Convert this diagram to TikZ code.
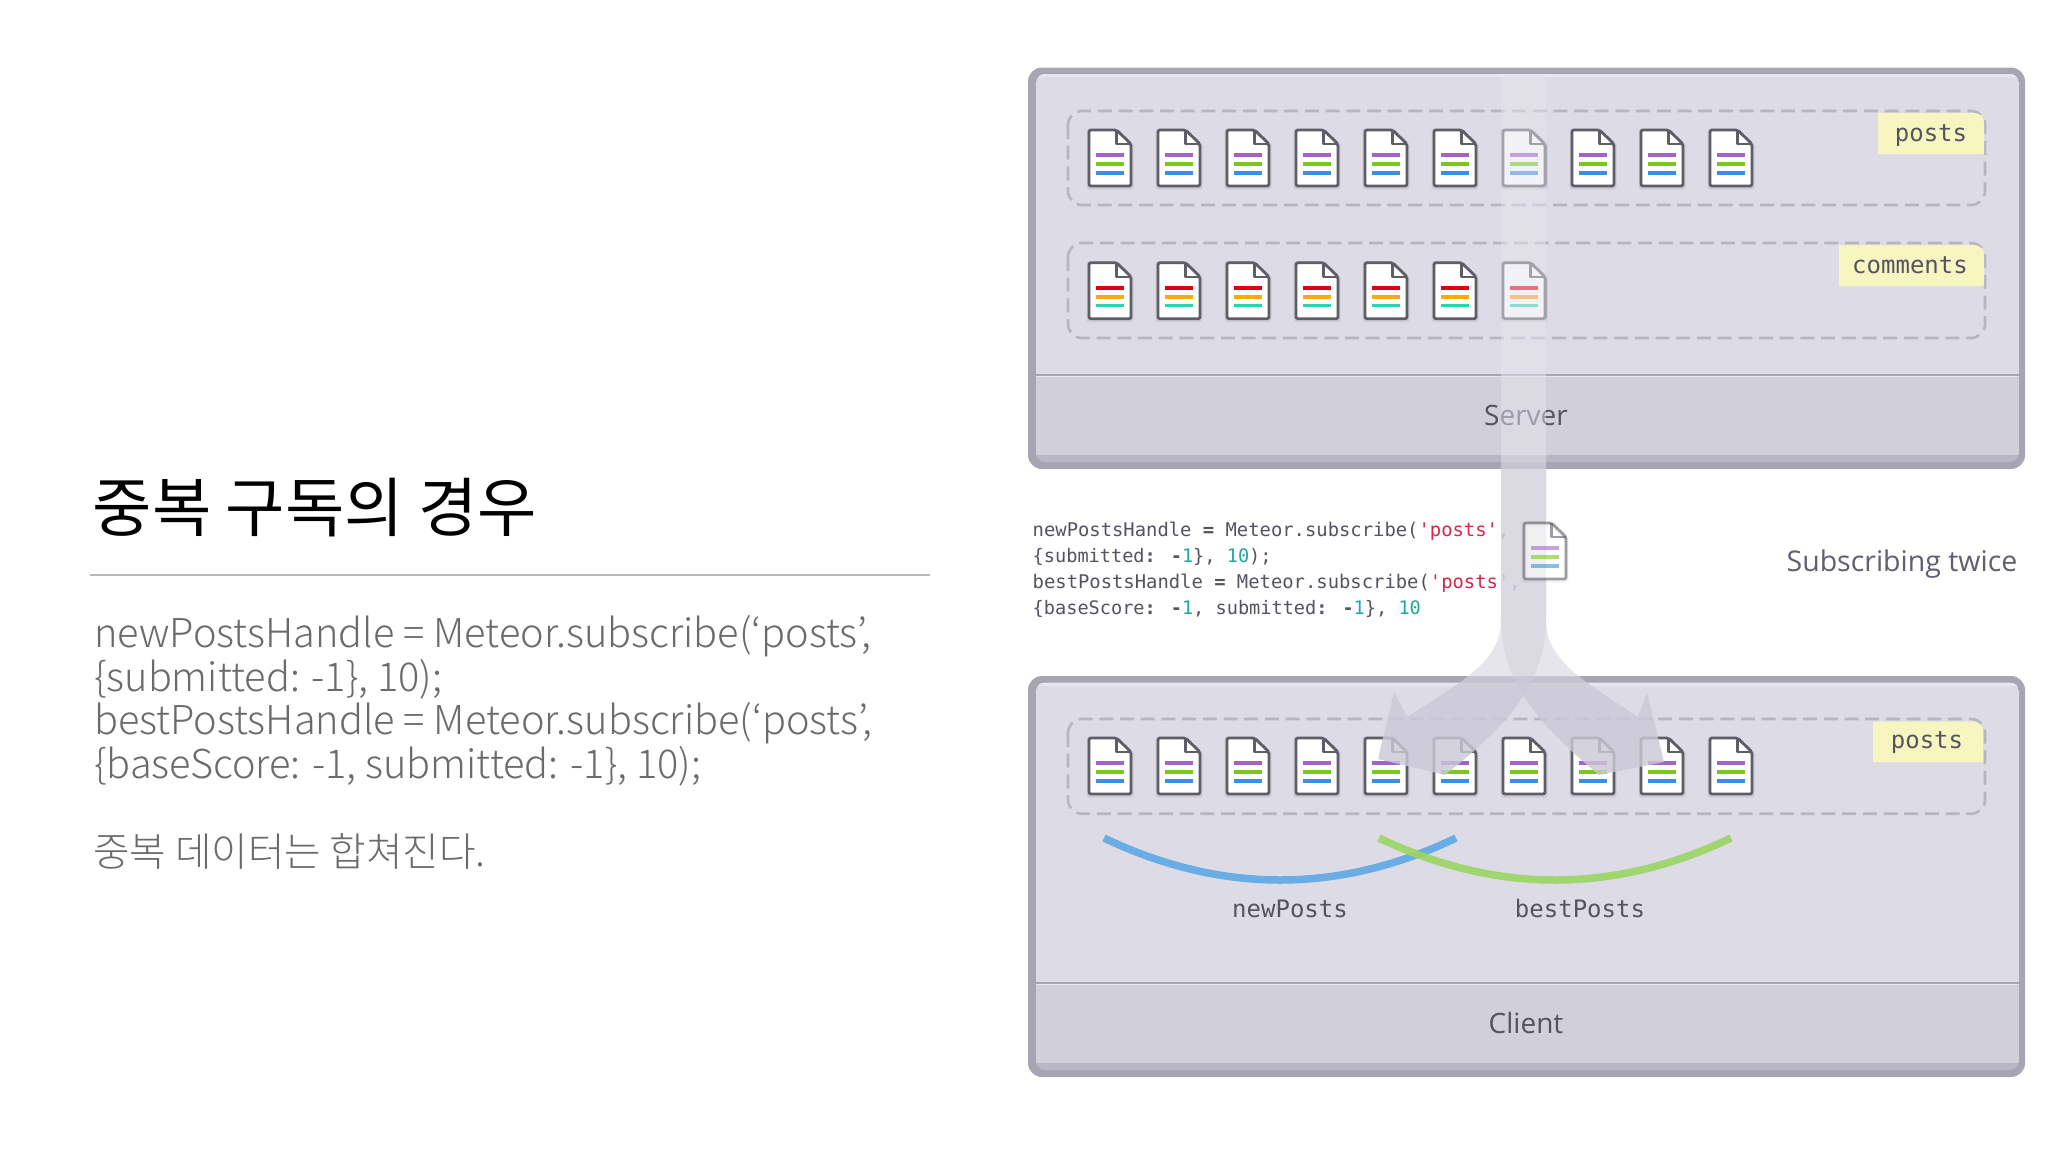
\documentclass[tikz,border=0pt]{standalone}
\usepackage{fontspec}
\setmainfont{Open Sans}
\newfontfamily\krfont{Noto Sans CJK KR}
\newfontfamily\krlight{Noto Sans CJK KR Light}
\newfontfamily\codef{DejaVu Sans Mono}
\definecolor{frameC}{HTML}{A6A5B1}
\definecolor{bodyC}{HTML}{DDDCE6}
\definecolor{footC}{HTML}{D0CFDA}
\definecolor{stripC}{HTML}{B8B7C3}
\definecolor{hiC}{HTML}{E7E6EF}
\definecolor{dashC}{HTML}{B6B5C0}
\definecolor{tagC}{HTML}{F8F6C0}
\definecolor{inkC}{HTML}{55535F}
\definecolor{docC}{HTML}{5E5E68}
\definecolor{purC}{HTML}{A064C8}
\definecolor{grnC}{HTML}{78C81E}
\definecolor{bluC}{HTML}{3C8FE0}
\definecolor{redC}{HTML}{E00010}
\definecolor{oraC}{HTML}{FFA814}
\definecolor{teaC}{HTML}{2CD4B4}
\definecolor{strC}{HTML}{D0284F}
\definecolor{numC}{HTML}{20A8A0}
\definecolor{arcBlue}{HTML}{6AADE4}
\definecolor{arcGreen}{HTML}{9BD565}
\definecolor{forkInC}{HTML}{CBC9D5}
\definecolor{forkOutC}{HTML}{D5D4DE}
\definecolor{bandC}{HTML}{E6E5ED}
\definecolor{twiceC}{HTML}{5F6070}
\tikzset{
  x=1pt,y=-1pt,
  dashbox/.style={draw=dashC,line width=2.6pt,dash pattern=on 14pt off 6.7pt,rounded corners=14pt},
  tagtext/.style={inner sep=0pt,font=\codef\fontsize{24}{28}\selectfont,text=inkC},
  lbl/.style={inner sep=0pt,font=\fontsize{28}{34}\selectfont,text=inkC},
  codeline/.style={inner sep=0pt,anchor=base west,font=\codef\fontsize{18.6}{24}\selectfont,text=inkC},
  codelong/.style={codeline,font=\codef\fontsize{18.85}{24}\selectfont},
  bodyline/.style={inner sep=0pt,anchor=base west,font=\krlight\fontsize{39.7}{44}\selectfont,text=black!58},
  arcline/.style={line width=7.5pt},
  forkin/.style={fill=forkInC,fill opacity=.82},
  forkout/.style={fill=forkOutC,fill opacity=.6},
}
% #1 x, #2 y, #3-#5 line colours, #6 opacity
\newcommand{\docicon}[6]{%
  \begin{scope}[shift={(#1,#2)},opacity=#6]
    \draw[black,opacity=.07*#6,line width=5pt,line join=round]
      (0,1) -- (27.5,1) -- (42,15) -- (42,57) -- (0,57) -- cycle;
    \draw[draw=docC,fill=white,line width=2.8pt,line join=round,rounded corners=2pt]
      (0,0) -- (27.5,0) -- (42,14) -- (42,56) -- (0,56) -- cycle;
    \draw[draw=docC,line width=2.2pt,line join=round] (27.5,0) -- (27.5,14) -- (42,14);
    \fill[#3] (7,23.4) rectangle (35,27);
    \fill[#4] (7,32) rectangle (35,36);
    \fill[#5] (7,41) rectangle (35,44.6);
  \end{scope}}
% #1 top, #2 divider, #3 bottom
\newcommand{\panelbox}[3]{%
  \fill[frameC,rounded corners=14pt] (1028,#1) rectangle (2025,#3);
  \begin{scope}
    \clip[rounded corners=9pt] (1036,#1+6.5) rectangle (2019,#3-7);
    \fill[bodyC] (1036,#1) rectangle (2019,#2);
    \fill[hiC] (1036,#1+6.5) rectangle (2019,#1+9.5);
    \fill[footC] (1036,#2) rectangle (2019,#3-14);
    \fill[stripC] (1036,#3-14) rectangle (2019,#3);
    \draw[line width=1.6pt,draw=frameC] (1036,#2) -- (2019,#2);
    \draw[line width=1pt,draw=hiC] (1036,#2+1.5) -- (2019,#2+1.5);
  \end{scope}}
% #1 left, #2 top, #3 right, #4 bottom
\newcommand{\tagshape}[4]{%
  \fill[tagC] (#1,#2) -- (#3-10,#2) .. controls (#3-4,#2) and (#3,#2+4) .. (#3,#2+10) -- (#3,#4) -- (#1,#4) -- cycle;}
\def\forkL{(1501,469) -- (1501,620) .. controls (1501,660) and (1465,680) .. (1407,717)
  -- (1394,692) -- (1378,759) -- (1445,775) .. controls (1495,735) and (1546,690) .. (1546,620) -- (1546,469) -- cycle}
\def\forkR{(1546,469) -- (1546,620) .. controls (1546,660) and (1582,680) .. (1638,717)
  -- (1647,693) -- (1664,762) -- (1599,775) .. controls (1552,735) and (1501,690) .. (1501,620) -- (1501,469) -- cycle}
\begin{document}
\begin{tikzpicture}
\useasboundingbox (0,0) rectangle (2048,1152);
\fill[white] (0,0) rectangle (2048,1152);

% left column
\node[inner sep=0pt,anchor=base west,font=\krfont\fontsize{64.5}{70}\selectfont,text=black] (title) at (92.5,531) {중복 구독의 경우};
\draw[draw=black!28,line width=1.6pt] (90,574.7) -- (930,574.7);
\node[bodyline] (b1) at (94,647) {newPostsHandle = Meteor.subscribe(‘posts’,};
\node[bodyline] (b2) at (94,691) {\{submitted: -1\}, 10);};
\node[bodyline] (b3) at (94,734) {bestPostsHandle = Meteor.subscribe(‘posts’,};
\node[bodyline] (b4) at (94,778) {\{baseScore: -1, submitted: -1\}, 10);};
\node[bodyline] (b5) at (93,866) {중복 데이터는 합쳐진다.};

% server panel
\panelbox{67.5}{375}{469}
\draw[dashbox] (1068,111) rectangle (1985,205);
\draw[dashbox] (1068,243) rectangle (1985,338);
\tagshape{1878}{113}{1984}{154}
\tagshape{1839}{245}{1984}{286}
\node[tagtext] (tposts) at (1931,135.5) {posts};
\node[tagtext] (tcomments) at (1910,265) {comments};
\foreach \i in {0,...,9} {\docicon{1089+69*\i}{130}{purC}{grnC}{bluC}{1}}
\foreach \i in {0,...,6} {\docicon{1089+69*\i}{262.7}{redC}{oraC}{teaC}{1}}
\node[lbl] (server) at (1526,415.5) {Server};
\fill[bandC,fill opacity=.5] (1501,75) rectangle (1546,469);

% client panel
\panelbox{676}{983}{1077}
\draw[dashbox] (1068,719) rectangle (1985,813.7);
\tagshape{1873}{721.5}{1983}{762}
\node[tagtext] (cposts) at (1927,743) {posts};
\foreach \i in {0,...,9} {\docicon{1089+69*\i}{738}{purC}{grnC}{bluC}{1}}
\coordinate (bs) at (1104,838); \coordinate (be) at (1456,838);
\coordinate (gs) at (1379,838); \coordinate (ge) at (1731,838);
\draw[arcline,draw=arcBlue] (bs) .. controls (1221,894) and (1339,894) .. (be);
\draw[arcline,draw=arcGreen,opacity=.92] (gs) .. controls (1496,894) and (1614,894) .. (ge);
\node[tagtext] (newp) at (1290,909) {newPosts};
\node[tagtext] (bestp) at (1580,909) {bestPosts};
\node[lbl] (client) at (1526,1022.5) {Client};

% code
\node[codelong] (c1) at (1032.5,536) {newPostsHandle {\bfseries=} Meteor.subscribe(\textcolor{strC}{'posts'},};
\node[codeline] (c2) at (1032.5,562) {\{submitted{\bfseries:} {\bfseries-}\textcolor{numC}{1}\}, \textcolor{numC}{10});};
\node[codelong] (c3) at (1032.5,588) {bestPostsHandle {\bfseries=} Meteor.subscribe(\textcolor{strC}{'posts'},};
\node[codeline] (c4) at (1032.5,614) {\{baseScore{\bfseries:} {\bfseries-}\textcolor{numC}{1}, submitted{\bfseries:} {\bfseries-}\textcolor{numC}{1}\}, \textcolor{numC}{10}};
\node[lbl,font=\fontsize{28.5}{34}\selectfont,text=twiceC] (twice) at (1902,564.5) {Subscribing twice};

% fork arrows
\begin{scope}
  \clip (1000,469) rectangle (2048,676);
  \fill[forkout] \forkL;
  \fill[forkout] \forkR;
\end{scope}
\begin{scope}
  \clip (1000,676) rectangle (2048,800);
  \fill[forkin] \forkL;
  \fill[forkin] \forkR;
\end{scope}
\docicon{1524}{523}{purC}{grnC}{bluC}{.6}
\end{tikzpicture}
\end{document}
